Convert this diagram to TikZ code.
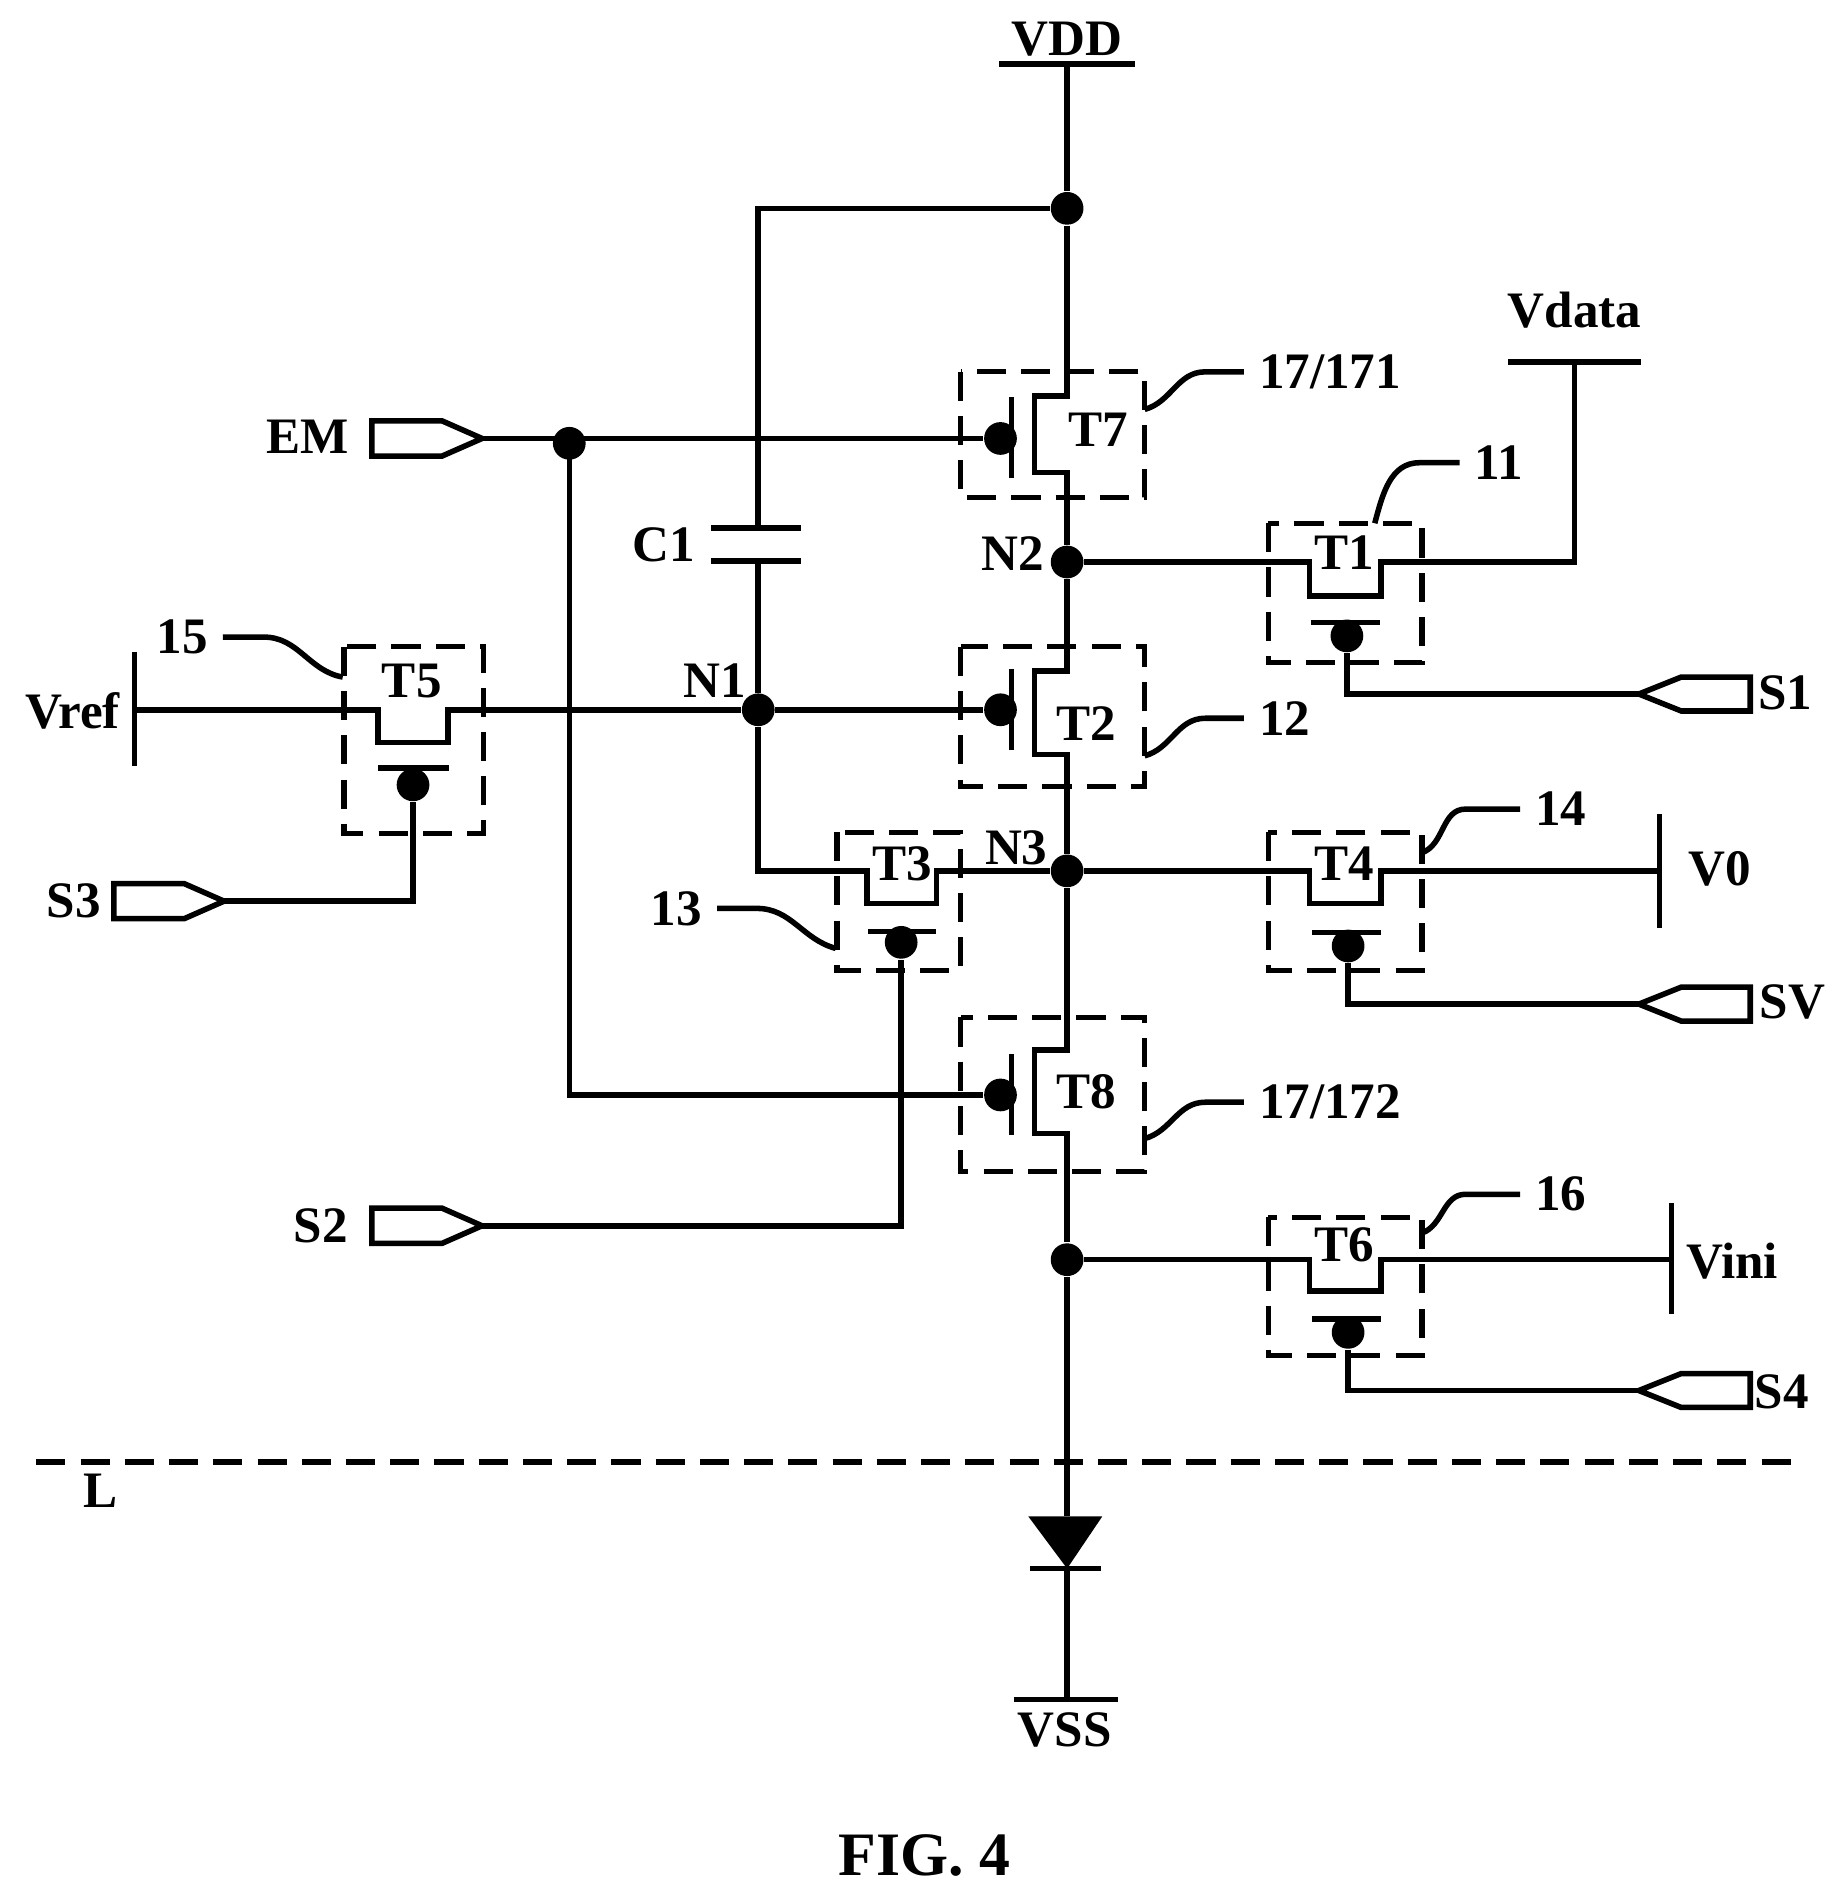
\documentclass[tikz,border=0pt]{standalone}
\usepackage{fontspec}
\setmainfont{Liberation Serif}
\usetikzlibrary{calc}

\tikzset{
	wire/.style={line width=1.3pt, line join=miter},
	tbox/.style={line width=1.2pt, dash pattern=on 0.24cm off 0.125cm},
	dot/.style={circle, fill=black, inner sep=0pt, minimum size=0.27cm},
	lbl/.style={font=\fontsize{12}{14}\selectfont\bfseries, text=black},
	lblw/.style={lbl, anchor=west},
}

\begin{document}
\begin{tikzpicture}[x=0.01cm, y=-0.01cm]
	\useasboundingbox (0,0) rectangle (1523,1567);

	% save coordinates for later
	\coordinate (vdd) at (881,53);			\coordinate (vss) at (881,1403);
	\coordinate (vdata) at (1300,299);		\coordinate (vref) at (111,586);
	\coordinate (v0) at (1370,719);			\coordinate (vini) at (1380,1040);
	\coordinate (capT) at (626,436);		\coordinate (capB) at (626,463);
	\coordinate (an) at (881,1252);			\coordinate (ca) at (881,1295);
	\coordinate (lineL) at (30,1207);		\coordinate (lineR) at (1482,1207);

	% input pins, coordinates at the tips
	\coordinate (pinEM) at (398,362);		\coordinate (pinS2) at (398,1012);
	\coordinate (pinS3) at (185,744);		\coordinate (pinS1) at (1353,573);
	\coordinate (pinSV) at (1353,829);		\coordinate (pinS4) at (1353,1148);

	% junctions
	\node[dot] (top) at (881,172) {};
	\node[dot] (n2) at (881,464) {};
	\node[dot] (n1) at (626,586) {};
	\node[dot] (n3) at (881,719) {};
	\node[dot] (n4) at (881,1040) {};
	\node[dot] (em) at (470,366) {};

	% gate dots
	\node[dot] (g7) at (826,362) {};
	\node[dot] (g2) at (826,586) {};
	\node[dot] (g8) at (826,904) {};
	\node[dot] (g1) at (1112,525) {};
	\node[dot] (g4) at (1113,781) {};
	\node[dot] (g6) at (1113,1100) {};
	\node[dot] (g5) at (341,648) {};
	\node[dot] (g3) at (744,778) {};

	% channels of the vertical transistors
	\coordinate (t7a) at (854,327);			\coordinate (t7b) at (854,390);
	\coordinate (t2a) at (854,554);			\coordinate (t2b) at (854,623);
	\coordinate (t8a) at (854,867);			\coordinate (t8b) at (854,936);

	% channels of the lying transistors
	\coordinate (t1a) at (1081,464);		\coordinate (t1b) at (1140,492);
	\coordinate (t4a) at (1081,719);		\coordinate (t4b) at (1140,746);
	\coordinate (t6a) at (1081,1040);		\coordinate (t6b) at (1140,1066);
	\coordinate (t3a) at (716,719);			\coordinate (t3b) at (773,746);
	\coordinate (t5a) at (312,586);			\coordinate (t5b) at (370,613);

	% draw the main rail first...
	\draw[wire] (vdd) -- (top) -- (vdd |- t7a) -- (t7a) -- (t7b) -- (vdd |- t7b) -- (n2);
	\draw[wire] (n2) -- (vdd |- t2a) -- (t2a) -- (t2b) -- (vdd |- t2b) -- (n3);
	\draw[wire] (n3) -- (vdd |- t8a) -- (t8a) -- (t8b) -- (vdd |- t8b) -- (n4);
	\draw[wire] (n4) -- (an);
	\draw[wire] (ca) -- (vss);

	% power bars
	\draw[wire] (vdd) ++(-56,0) -- ++(112,0);
	\draw[wire] (vss) ++(-44,0) -- ++(86,0);
	\draw[wire] (vdata) ++(-55,0) -- ++(110,0);
	\draw[wire] (vref) ++(0,-48) -- ++(0,94);
	\draw[wire] (v0) ++(0,-47) -- ++(0,94);
	\draw[wire] (vini) ++(0,-47) -- ++(0,92);

	% capacitor and the first node
	\draw[wire] (top) -| (capT);
	\draw[wire] (capT) ++(-39,0) -- ++(74,0);
	\draw[wire] (capB) ++(-39,0) -- ++(74,0);
	\draw[wire] (capB) -- (n1);
	\draw[wire] (n1) |- (t3a) -- (t3a |- t3b) -- (t3b) -- (t3b |- t3a) -- (n3);

	% lying transistors
	\draw[wire] (n2) -- (t1a) -- (t1a |- t1b) -- (t1b) -- (t1b |- t1a) -| (vdata);
	\draw[wire] (n3) -- (t4a) -- (t4a |- t4b) -- (t4b) -- (t4b |- t4a) -- (v0);
	\draw[wire] (n4) -- (t6a) -- (t6a |- t6b) -- (t6b) -- (t6b |- t6a) -- (vini);
	\draw[wire] (vref) -- (t5a) -- (t5a |- t5b) -- (t5b) -- (t5b |- t5a) -- (n1);

	% gate bars
	\foreach \g in {g7,g2,g8}
		\draw[wire] (\g) ++(9,-34) -- ++(0,67);
	\foreach \g in {g1,g4,g6}
		\draw[wire] (\g) ++(-30,-11) -- ++(57,0);
	\draw[wire] (g3) ++(-27,-9) -- ++(56,0);
	\draw[wire] (g5) ++(-29,-14) -- ++(59,0);

	% gate wires
	\draw[wire] (pinEM) -- (g7);
	\draw[wire] (em |- pinEM) -- (em |- g8) -- (g8);
	\draw[wire] (n1) -- (g2);
	\draw[wire] (pinS2) -| (g3);
	\draw[wire] (pinS3) -| (g5);
	\draw[wire] (g1) |- (pinS1);
	\draw[wire] (g4) |- (pinSV);
	\draw[wire] (g6) |- (pinS4);

	% pins
	\foreach \p in {pinEM,pinS2,pinS3}
		\draw[wire] (\p) -- ++(-33,-14.5) -- ++(-58,0) -- ++(0,29) -- ++(58,0) -- cycle;
	\foreach \p in {pinS1,pinSV,pinS4}
		\draw[wire] (\p) -- ++(35,-14) -- ++(57,0) -- ++(0,28) -- ++(-57,0) -- cycle;

	% diode
	\fill (849,1252) -- (910,1252) -- (ca) -- cycle;
	\draw[wire] (ca) ++(-31,0) -- ++(59,0);

	% dashed boxes round the transistors
	\draw[tbox] (793,307) rectangle (945,411);
	\draw[tbox] (793,534) rectangle (945,649);
	\draw[tbox] (793,840) rectangle (945,967);
	\draw[tbox] (1047,432) rectangle (1174,547);
	\draw[tbox] (1047,687) rectangle (1174,801);
	\draw[tbox] (1047,1005) rectangle (1174,1119);
	\draw[tbox] (691,687) rectangle (793,801);
	\draw[tbox] (284,534) rectangle (399,688);
	\draw[wire, dash pattern=on 0.24cm off 0.125cm] (lineL) -- (lineR);

	% nodes with labels
	\node[lbl] (lvdd) at (881,32) {VDD};
	\node[lbl] (lvss) at (879,1428) {VSS};
	\node[lbl] (lvdata) at (1300,256) {Vdata};
	\node[lbl] (lvref) at (60,587) {Vref};
	\node[lbl] (lv0) at (1420,717) {V0};
	\node[lbl] (lvini) at (1430,1041) {Vini};
	\node[lbl] (lem) at (254,361) {EM};
	\node[lbl] (ls1) at (1474,572) {S1};
	\node[lbl] (ls2) at (265,1012) {S2};
	\node[lbl] (ls3) at (61,744) {S3};
	\node[lbl] (ls4) at (1471,1149) {S4};
	\node[lbl] (lsv) at (1480,827) {SV};
	\node[lbl] (lc1) at (548,450) {C1};
	\node[lbl] (ln1) at (590,562) {N1};
	\node[lbl] (ln2) at (836,457) {N2};
	\node[lbl] (ln3) at (839,700) {N3};
	\node[lbl] (lt1) at (1110,456) {T1};
	\node[lbl] (lt2) at (897,597) {T2};
	\node[lbl] (lt3) at (745,713) {T3};
	\node[lbl] (lt4) at (1110,713) {T4};
	\node[lbl] (lt5) at (340,562) {T5};
	\node[lbl] (lt6) at (1110,1028) {T6};
	\node[lbl] (lt7) at (907,355) {T7};
	\node[lbl] (lt8) at (897,901) {T8};
	\node[lbl] (ll) at (83,1231) {L};
	\node[font=\fontsize{14.5}{16}\selectfont\bfseries] (lfig) at (763,1532) {FIG. 4};

	% reference numbers and their leaders
	\node[lblw] (r171) at (1027,307) {17/171};
	\node[lblw] (r172) at (1027,910) {17/172};
	\node[lblw] (r11) at (1205,382) {11};
	\node[lblw] (r12) at (1027,593) {12};
	\node[lblw] (r14) at (1255,668) {14};
	\node[lblw] (r16) at (1255,986) {16};
	\node[lbl, anchor=east] (r13) at (592,750) {13};
	\node[lbl, anchor=east] (r15) at (184,526) {15};
	\draw[wire] (945,338) to[out=15, in=180] (995,307) -- (r171.west);
	\draw[wire] (945,940) to[out=15, in=180] (995,910) -- (r172.west);
	\draw[wire] (945,624) to[out=15, in=180] (995,593) -- (r12.west);
	\draw[wire] (1135,432) to[out=75, in=180] (1172,382) -- (r11.west);
	\draw[wire] (1174,704) to[out=20, in=180] (1210,668) -- (r14.west);
	\draw[wire] (1174,1018) to[out=20, in=180] (1210,986) -- (r16.west);
	\draw[wire] (r13.east) -- (625,750) to[out=0, in=165] (690,783);
	\draw[wire] (r15.east) -- (218,526) to[out=0, in=170] (283,559);

\end{tikzpicture}
\end{document}
